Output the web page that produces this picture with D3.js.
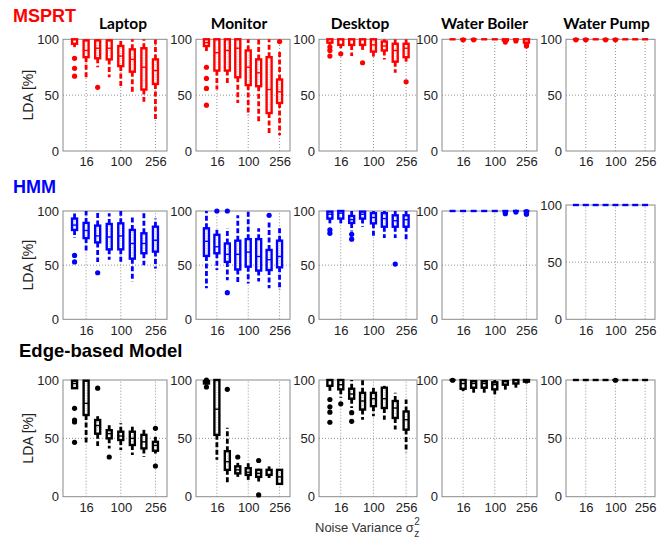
<!DOCTYPE html>
<html><head><meta charset="utf-8">
<script src="https://cdn.jsdelivr.net/npm/d3@7"></script>
<style>body{margin:0;background:#fff}svg{display:block}</style>
</head><body>
<svg id="c" width="667" height="540"></svg>
<script>
// ---- data ----
const devices = ["Laptop","Monitor","Desktop","Water Boiler","Water Pump"];
const models = ["MSPRT","HMM","Edge-based Model"];
const modelColors = ["#ff0000","#0000ff","#000000"];
const variances = [4,16,36,64,100,144,196,256];
const xTickLabels = ["16","100","256"];
const xTickIdx = [2,5,8];
const yTicks = [0,50,100];
// each box: [whiskerLow, q1, median, q3, whiskerHigh]
const msprt_Laptop = [[93,96,99,100,100],[66,84,90,99,100],[75,83,92,99,100],[66,82,92,99,100],[58,76,85,94,100],[52,71,82,91,100],[44,55,75,92,100],[28,60,72,82,100]];
const msprt_Laptop_out = [[83,74,67],[],[57],[],[],[],[],[]];
const msprt_Monitor = [[88,94,97,100,100],[55,72,88,100,100],[59,72,90,100,100],[43,66,92,100,100],[32,59,75,90,100],[25,58,70,82,100],[14,34,55,84,100],[14,43,53,64,90]];
const msprt_Monitor_out = [[75,65,56,41],[],[],[],[],[],[],[98]];
const msprt_Desktop = [[95,97,99,100,100],[92,95,98,100,100],[85,95,99,100,100],[90,95,98,100,100],[83,89,95,100,100],[82,90,94,98,100],[70,80,90,96,100],[80,84,92,96,100]];
const msprt_Desktop_out = [[93,90,85],[87],[],[79],[],[],[],[62]];
const msprt_Boiler = [[100,100,100,100,100],[100,100,100,100,100],[100,100,100,100,100],[100,100,100,100,100],[100,100,100,100,100],[98,99,100,100,100],[99,100,100,100,100],[96,97,99,100,100]];
const msprt_Boiler_out = [[],[99.5],[99.5],[],[],[97.5],[98.5],[95,94]];
const msprt_Pump = [[100,100,100,100,100],[100,100,100,100,100],[100,100,100,100,100],[100,100,100,100,100],[100,100,100,100,100],[100,100,100,100,100],[100,100,100,100,100],[100,100,100,100,100]];
const msprt_Pump_out = [[99.5],[99.5],[],[99.5],[99.5],[],[],[]];

const hmm_Laptop = [[75,82.5,87,93,100],[62,75,82,89,100],[53,71,77,86.5,99],[55,64.6,76,88,98],[51,64.6,77,88.6,100],[35,56,70,82.5,95.5],[50,61,70,79.4,98],[47,62.5,73,85.5,93]];
const hmm_Laptop_out = [[59,53],[],[43],[],[],[],[],[]];
const hmm_Monitor = [[28.6,58.5,72,84,100],[45.5,61,67,78,84],[36,53,60,70,84],[33,46,60,72.6,96],[33,48.6,62,74,100],[35,45,58,74,84],[28.6,45.5,55,64,90],[27,48,58,72.6,85.5]];
const hmm_Monitor_out = [[],[100],[100,24.6],[],[],[],[96],[]];
const hmm_Desktop = [[88.6,93,97,99.4,100],[88.6,93,98,100,100],[81,89,92,95.4,100],[85.5,93,97,99.4,100],[76,88.6,94,98,100],[75,85.5,93,98,100],[75,85.5,91,96,100],[73,85.5,92,96,100]];
const hmm_Desktop_out = [[82.5,79.4],[],[78.5,74],[],[],[],[51],[]];
const hmm_Boiler = [[100,100,100,100,100],[100,100,100,100,100],[100,100,100,100,100],[100,100,100,100,100],[100,100,100,100,100],[99,99.5,100,100,100],[100,100,100,100,100],[99,99.5,100,100,100]];
const hmm_Boiler_out = [[],[],[],[],[],[98.5,97.5],[99],[99.5,98,97]];
const hmm_Pump = [[100,100,100,100,100],[100,100,100,100,100],[100,100,100,100,100],[100,100,100,100,100],[100,100,100,100,100],[100,100,100,100,100],[100,100,100,100,100],[100,100,100,100,100]];
const hmm_Pump_out = [[],[],[],[],[],[],[],[]];

const edge_Laptop = [[93,93,97,99.4,100],[46,70,80,99.4,100],[43.4,54,61,65.7,69],[41.4,50,54,57,61.4],[40,48.6,52,55.7,63],[35.7,44.3,50,55.7,60],[34.3,41.4,47,53,58.6],[37,39.4,44,47,53]];
const edge_Laptop_out = [[75.7,65.7,64,46.6],[],[93],[34],[],[],[],[58.6,26.3]];
const edge_Monitor = [[96,97,98,99,100],[31.6,53,75,100,100],[11.5,23,30,39,59],[17,20,23,26,29],[13,18.7,21,24.4,29],[13,17,20,23,24],[16,18.7,21,23,26],[10,11,17,23,23]];
const edge_Monitor_out = [[100,94],[],[92],[34],[],[31,1.5],[],[]];
const edge_Desktop = [[89,95,98,100,100],[84.8,92,96,100,100],[76,84,88,92.5,100],[66,74.7,82,89,100],[69,77.6,84,89,93.4],[66,76,84,93.4,95],[57.5,67.5,76,82,89],[38,57.5,66,73,83.3]];
const edge_Desktop_out = [[83.3,77,72.4,63.8],[79.6],[72,64.6],[],[],[],[],[]];
const edge_Boiler = [[100,100,100,100,100],[90.5,92.5,97,100,100],[89,93.4,97,99,100],[89,93.4,97,99,100],[87,92,96,98,100],[91.4,96,98,99,100],[93.4,97,99,100,100],[97,98.6,99.5,100,100]];
const edge_Boiler_out = [[99.8],[],[],[],[],[],[],[]];
const edge_Pump = [[100,100,100,100,100],[100,100,100,100,100],[100,100,100,100,100],[100,100,100,100,100],[100,100,100,100,100],[100,100,100,100,100],[100,100,100,100,100],[100,100,100,100,100]];
const edge_Pump_out = [[],[],[],[],[99.8],[],[],[]];

const panelStats = [
  [msprt_Laptop,msprt_Monitor,msprt_Desktop,msprt_Boiler,msprt_Pump],
  [hmm_Laptop,hmm_Monitor,hmm_Desktop,hmm_Boiler,hmm_Pump],
  [edge_Laptop,edge_Monitor,edge_Desktop,edge_Boiler,edge_Pump]];
const panelOut = [
  [msprt_Laptop_out,msprt_Monitor_out,msprt_Desktop_out,msprt_Boiler_out,msprt_Pump_out],
  [hmm_Laptop_out,hmm_Monitor_out,hmm_Desktop_out,hmm_Boiler_out,hmm_Pump_out],
  [edge_Laptop_out,edge_Monitor_out,edge_Desktop_out,edge_Boiler_out,edge_Pump_out]];

// ---- layout ----
const colX = [[63,167],[196,290],[319,417],[442,537],[566,655]];
const rowY = [[39.3,151],[211,319.3],[380,496.7]];
const svg = d3.select("#c");
const font = "Liberation Sans, Arial, sans-serif";

// row headers
const rowLabelY = [22,193,357];
const rowLabelSize = [18,18,18.5];
models.forEach((m,r)=>{
  svg.append("text").attr("x",r===2?19:13).attr("y",rowLabelY[r]).text(m)
    .attr("font-family",font).attr("font-weight","bold").attr("font-size",rowLabelSize[r])
    .attr("fill",modelColors[r]);
  const ym = (rowY[r][0]+rowY[r][1])/2;
  svg.append("text").attr("transform",`translate(33,${ym}) rotate(-90)`).attr("text-anchor","middle")
    .attr("font-family",font).attr("font-size",14).attr("fill","#222").text("LDA [%]");
});
// device titles
const titleOffset = [8,-4,-8,-5,-4];
devices.forEach((d,c)=>{
  svg.append("text").attr("x",(colX[c][0]+colX[c][1])/2+titleOffset[c]).attr("y",29)
    .attr("text-anchor","middle").attr("font-family","Lato, Open Sans, sans-serif").attr("font-weight","bold")
    .attr("font-size",15.5).attr("fill","#000").text(d);
});

for(let r=0;r<3;r++){
  for(let c=0;c<5;c++){
    const top = (r===1&&c===4)?205:rowY[r][0];
    const bot = rowY[r][1];
    const x = d3.scaleLinear().domain([0,9]).range(colX[c]);
    const y = d3.scaleLinear().domain([0,100]).range([bot,top]);
    const g = svg.append("g");
    const col = modelColors[r];
    // grid
    g.selectAll(".vg").data(xTickIdx).join("line")
      .attr("x1",d=>x(d)).attr("x2",d=>x(d)).attr("y1",y(0)).attr("y2",y(100))
      .attr("stroke","#777").attr("stroke-width",0.8).attr("stroke-dasharray","1,2");
    g.append("line").attr("x1",x(0)).attr("x2",x(9)).attr("y1",y(50)).attr("y2",y(50))
      .attr("stroke","#777").attr("stroke-width",0.8).attr("stroke-dasharray","1,2");
    // axes
    const ax = g.append("g").attr("transform",`translate(0,${bot})`)
      .call(d3.axisBottom(x).tickValues(xTickIdx).tickFormat((d,i)=>xTickLabels[i]).tickSize(0).tickPadding(6));
    ax.select(".domain").remove();
    ax.selectAll("text").attr("font-family",font).attr("font-size",13).attr("fill","#222");
    const ay = g.append("g").attr("transform",`translate(${colX[c][0]},0)`)
      .call(d3.axisLeft(y).tickValues(yTicks).tickSize(0).tickPadding(4));
    ay.select(".domain").remove();
    ay.selectAll("text").attr("font-family",font).attr("font-size",13).attr("fill","#222");
    g.append("rect").attr("x",x(0)).attr("y",y(100)).attr("width",x(9)-x(0)).attr("height",y(0)-y(100))
      .attr("fill","none").attr("stroke","#8a8a8a").attr("stroke-width",1);
    // boxes
    const stats = panelStats[r][c];
    const outs = panelOut[r][c];
    const bw = 5;
    stats.forEach((s,i)=>{
      const cx = x(i+1);
      const [wl,q1,md,q3,wh] = s;
      if(q1-wl>0.5) g.append("line").attr("x1",cx).attr("x2",cx).attr("y1",y(q1)).attr("y2",y(wl))
        .attr("stroke",col).attr("stroke-width",2.8).attr("stroke-dasharray","5,2.5");
      if(wh-q3>0.5) g.append("line").attr("x1",cx).attr("x2",cx).attr("y1",y(q3)).attr("y2",y(wh))
        .attr("stroke",col).attr("stroke-width",2.8).attr("stroke-dasharray","5,2.5");
      const h = y(q1)-y(q3);
      if(h<1){
        g.append("line").attr("x1",cx-bw/2-0.5).attr("x2",cx+bw/2+0.5).attr("y1",y(q3)).attr("y2",y(q3))
          .attr("stroke",col).attr("stroke-width",2.4);
      } else {
        g.append("rect").attr("x",cx-bw/2).attr("y",y(q3)).attr("width",bw).attr("height",h)
          .attr("fill","#fff").attr("stroke",col).attr("stroke-width",2.4);
      }
      if(h>6){
        g.append("line").attr("x1",cx).attr("x2",cx).attr("y1",y(q3)+2).attr("y2",y(q1)-2)
          .attr("stroke","#bbb").attr("stroke-width",1).attr("stroke-dasharray","1,1.5");
        g.append("line").attr("x1",cx-bw/2).attr("x2",cx+bw/2).attr("y1",y(md)).attr("y2",y(md))
          .attr("stroke",col).attr("stroke-width",1.4);
      }
      outs[i].forEach(o=>{
        g.append("circle").attr("cx",cx).attr("cy",y(o)).attr("r",2.6).attr("fill",col);
      });
    });
  }
}
// x-axis label
const xl = svg.append("text").attr("x",315).attr("y",532).attr("font-family",font).attr("font-size",13)
  .attr("fill","#333").text("Noise Variance σ");
const L = xl.node().getComputedTextLength();
svg.append("text").attr("x",315+L+0.5).attr("y",525).attr("font-family",font).attr("font-size",10).attr("fill","#333").text("2");
svg.append("text").attr("x",315+L+0.5).attr("y",537).attr("font-family",font).attr("font-size",10).attr("fill","#333").text("z");
</script>
</body></html>
